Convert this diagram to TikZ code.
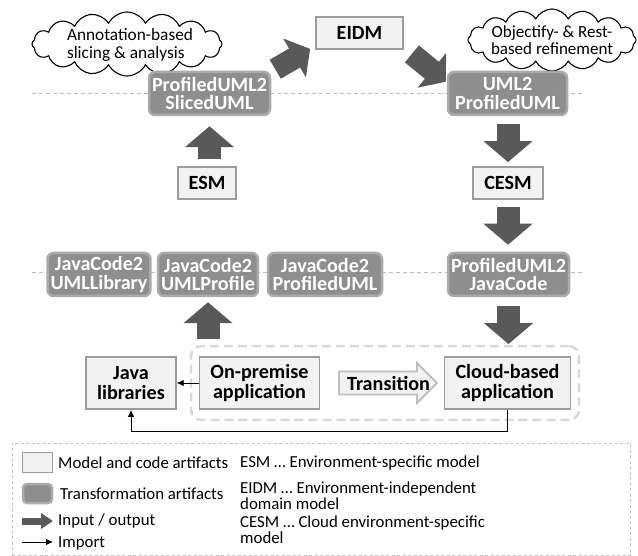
\documentclass[tikz,border=0pt]{standalone}
\usepackage{fontspec}
\setmainfont{Carlito}
\usetikzlibrary{arrows.meta,shapes.symbols,fit,calc}
\definecolor{boxfill}{HTML}{F2F2F2}
\definecolor{boxborder}{HTML}{9C9C9C}
\definecolor{tfill}{HTML}{8E8E8E}
\definecolor{tborder}{HTML}{ABABAB}
\definecolor{arrowc}{HTML}{595959}
\definecolor{guidec}{HTML}{BDBDBD}
\definecolor{regionc}{HTML}{D9D9D9}
\definecolor{transborder}{HTML}{BFBFBF}
\definecolor{legc}{HTML}{C4C4C4}
\newlength{\rsTmpW}
\newcommand{\rsCalcFs}[4]{%
  \settowidth{\rsTmpW}{#2\fontsize{20}{20}\selectfont #3}%
  \pgfmathsetmacro#1{20*#4/\rsTmpW}}
\begin{document}
\rsCalcFs{\fsCloudA}{}{Annotation-based}{126}%
\rsCalcFs{\fsCloudB}{}{based refinement}{122}%
\rsCalcFs{\fsLeg}{}{Model and code artifacts}{170}%
\rsCalcFs{\fsBox}{\bfseries}{Cloud-based}{104}%
\rsCalcFs{\fsTr}{\bfseries}{ProfiledUML2}{115}%
\begin{tikzpicture}[x=1pt,y=-1pt,
  lbox/.style={draw=boxborder, fill=boxfill, line width=1.8pt, font=\bfseries\fontsize{\fsBox}{20.5}\selectfont, align=center, inner xsep=11pt, inner ysep=2pt, text=black},
  tbox/.style={draw=tborder, fill=tfill, line width=2.5pt, rounded corners=6pt, font=\bfseries\fontsize{\fsTr}{18.5}\selectfont, text=white, align=center, inner xsep=3pt, inner ysep=1pt, minimum height=43pt},
  bigarrow/.style={draw=arrowc, line width=23pt, -{Triangle[length=21pt,width=48pt]}},
  diagarrow/.style={draw=arrowc, line width=22pt, -{Triangle[length=18pt,width=44pt]}},
  guide/.style={draw=guidec, line width=0.9pt, dash pattern=on 4pt off 3pt},
  region/.style={draw=regionc, line width=2.5pt, dash pattern=on 9pt off 5pt, rounded corners=10pt, inner xsep=7.5pt, inner ysep=10pt},
  imp/.style={draw=black, line width=0.8pt, -{Latex[length=7pt,width=6.5pt]}},
  cloudsh/.style={cloud, draw=black, fill=white, line width=1.1pt, cloud puffs=16, cloud puff arc=125, inner sep=0pt},
  cloudtxt/.style={inner sep=0pt},
  legtxt/.style={font=\fontsize{\fsLeg}{16.5}\selectfont, inner sep=0pt, anchor=west, align=left},
  legendbox/.style={draw=legc, line width=0.8pt, dash pattern=on 3pt off 2.5pt},
  transarrow/.style={draw=transborder, fill=boxfill, line width=1.8pt, line join=miter}
]
\useasboundingbox (0,0) rectangle (638,556);

% guide lines
\draw[guide] (32,93.5) -- (582,93.5);
\draw[guide] (32,272.5) -- (582,272.5);

% clouds
\node[cloudsh, minimum width=190pt, minimum height=64pt] (c1) at (127,44) {};
\node[cloudtxt, align=left, font=\fontsize{\fsCloudA}{18.3}\selectfont] (c1t) at (130,45) {Annotation-based\\slicing \& analysis};
\node[cloudsh, minimum width=168pt, minimum height=62pt] (c2) at (552,40) {};
\node[cloudtxt, align=center, font=\fontsize{\fsCloudB}{17}\selectfont] (c2t) at (552,40.5) {Objectify- \& Rest-\\based refinement};

% model boxes
\node[lbox, minimum width=87pt, minimum height=32pt] (eidm) at (359.5,33) {EIDM};
\node[lbox, minimum height=32pt] (esm) at (207,183) {ESM};
\node[lbox, minimum height=32pt] (cesm) at (508,183) {CESM};
\node[lbox, minimum height=52pt] (jlib) at (131,383) {Java\\libraries};
\node[lbox, minimum height=52pt] (onp) at (259.5,383) {On-premise\\application};
\node[lbox, minimum height=52pt] (cba) at (507.5,383) {Cloud-based\\application};

% transformation boxes
\node[tbox] (ps) at (209.5,93.5) {ProfiledUML2\\SlicedUML};
\node[tbox, minimum width=119pt] (up) at (507.5,93.5) {UML2\\ProfiledUML};
\node[tbox] (jl) at (99,274.5) {JavaCode2\\UMLLibrary};
\node[tbox] (jp) at (208,274.5) {JavaCode2\\UMLProfile};
\node[tbox, minimum width=114pt] (jpu) at (325,274.5) {JavaCode2\\ProfiledUML};
\node[tbox] (pj) at (508.5,274.5) {ProfiledUML2\\JavaCode};

% region around applications
\node[region, fit=(onp)(cba)] (reg) {};

% transition arrow
\coordinate (tc) at (388,383);
\draw[transarrow] ($(tc)+(-49,-11.5)$) -- ++(78,0) -- ++(0,-8.5) -- ++(20,20) -- ++(-20,20) -- ++(0,-8.5) -- ++(-78,0) -- cycle;
\node[font=\bfseries\fontsize{\fsBox}{20}\selectfont, inner sep=0pt] (trans) at ($(tc)+(0.5,0)$) {Transition};

% big input/output arrows
\draw[bigarrow, shorten <=7pt, shorten >=10pt] (ps.south |- esm.north) -- (ps.south);
\draw[bigarrow, shorten <=17pt, shorten >=5pt] (jp.south |- onp.north) -- (jp.south);
\draw[diagarrow] ($(ps.north east)+(4,-1.5)$) -- ($(eidm.south west)+(-5,-1)$);
\draw[diagarrow] ($(eidm.south east)+(8,4)$) -- ($(up.north west)+(-1,11)$);
\draw[bigarrow, shorten <=8pt, shorten >=4pt] (cesm.north |- up.south) -- (cesm.north);
\draw[bigarrow, shorten <=7pt, shorten >=7pt] (cesm.south) -- (cesm.south |- pj.north);
\draw[bigarrow, shorten <=9pt, shorten >=12pt] (pj.south) -- (pj.south |- cba.north);

% import connectors
\draw[imp] (onp.west) -- (jlib.east);
\draw[imp] (cba.south) -- ++(0,21) -| (jlib.south);

% legend
\node[legendbox, minimum width=618pt, minimum height=112pt, inner sep=0pt] (leg) at (321,499) {};
\node[draw=boxborder, fill=boxfill, line width=1.8pt, minimum width=30pt, minimum height=20pt, inner sep=0pt] (sw1) at (37.5,462.5) {};
\node[draw=tborder, fill=tfill, line width=2.5pt, rounded corners=4pt, minimum width=29pt, minimum height=19pt, inner sep=0pt] (sw2) at (37.5,493.5) {};
\node[legtxt] (l1) at (58,463) {Model and code artifacts};
\node[legtxt] (l2) at (60,493.5) {Transformation artifacts};
\coordinate (io1) at (22,521);
\coordinate (io2) at (53,521);
\draw[draw=arrowc, line width=7pt, -{Triangle[length=12pt,width=15pt]}] (io1) -- (io2);
\node[legtxt] (l3) at (58,521) {Input / output};
\coordinate (im1) at (22,542);
\coordinate (im2) at (53,542);
\draw[imp] (im1) -- (im2);
\node[legtxt] (l4) at (58,543) {Import};
\node[legtxt] (r1) at (240,463) {ESM … Environment-specific model};
\node[legtxt] (r2) at (240,495.5) {EIDM … Environment-independent\\domain model};
\node[legtxt] (r3) at (240,529.5) {CESM … Cloud environment-specific\\model};
\end{tikzpicture}
\end{document}
